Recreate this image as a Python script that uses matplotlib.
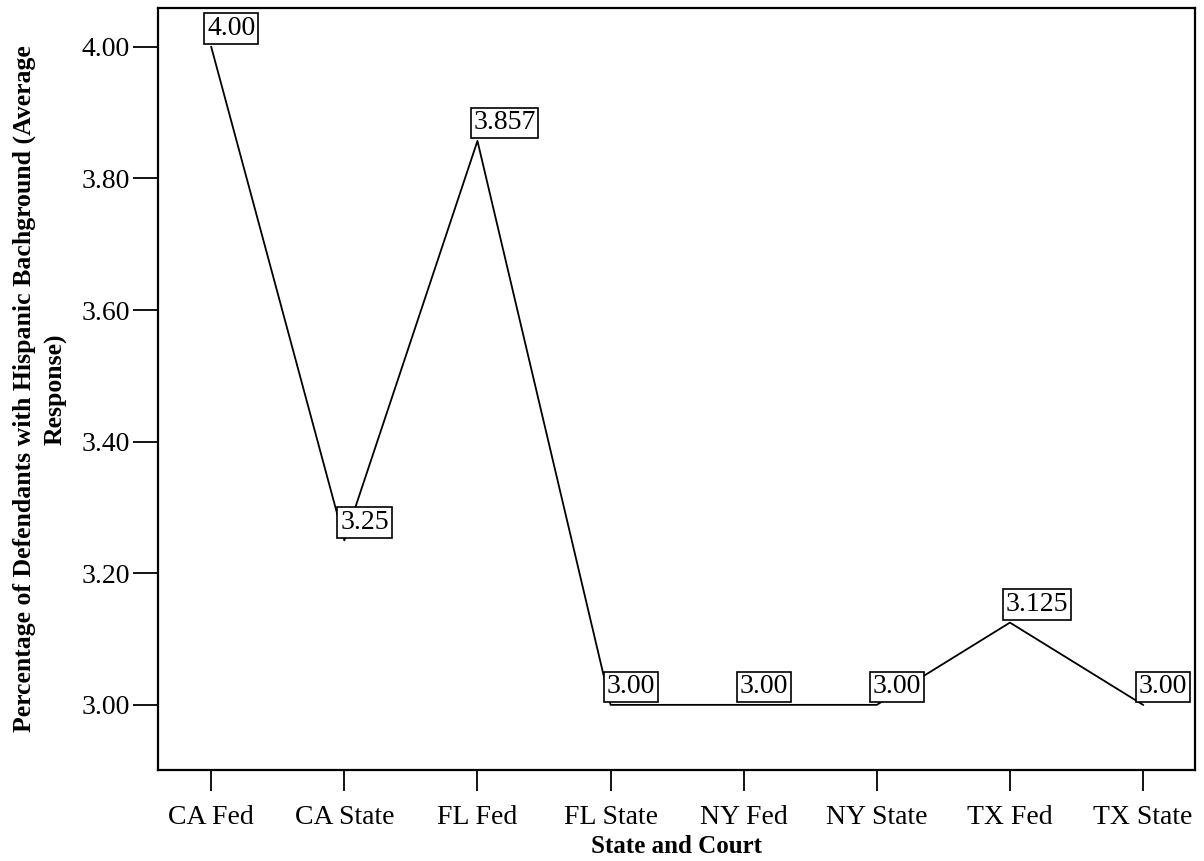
import matplotlib.pyplot as plt

# data
courts = ['CA Fed', 'CA State', 'FL Fed', 'FL State', 'NY Fed', 'NY State', 'TX Fed', 'TX State']
avg_resp = [4.00, 3.25, 3.857, 3.00, 3.00, 3.00, 3.125, 3.00]
point_labels = ['4.00', '3.25', '3.857', '3.00', '3.00', '3.00', '3.125', '3.00']
yticks = [3.00, 3.20, 3.40, 3.60, 3.80, 4.00]

plt.rcParams['font.family'] = ['Liberation Serif', 'DejaVu Serif']

fig = plt.figure(figsize=(12.04, 8.61), dpi=100)
ax = fig.add_axes([0.1312, 0.1057, 0.8613, 0.885])

xs = list(range(len(courts)))
ax.plot(xs, avg_resp, color='black', linewidth=1.3)

for x, y, lab in zip(xs, avg_resp, point_labels):
    ax.annotate(lab, (x, y), xytext=(-3, 4), textcoords='offset points',
                ha='left', va='bottom', fontsize=20, annotation_clip=False,
                bbox=dict(boxstyle='square,pad=0.1', fc='white', ec='black', lw=1.2))

ax.set_xlim(-0.4, 7.39)
ax.set_ylim(2.901, 4.059)
ax.set_xticks(xs)
ax.set_xticklabels(courts, fontsize=20)
ax.set_yticks(yticks)
ax.set_yticklabels(['%.2f' % v for v in yticks], fontsize=20)

ax.tick_params(axis='y', direction='out', length=18, width=1.3, pad=2)
ax.tick_params(axis='x', direction='out', length=15, width=1.3, pad=10)
for s in ax.spines.values():
    s.set_linewidth(1.6)

ax.set_xlabel('State and Court', fontsize=18, fontweight='bold', labelpad=4)
ax.set_ylabel('Percentage of Defendants with Hispanic Bachground (Average\nResponse)',
              fontsize=18.5, fontweight='bold', labelpad=10, linespacing=1.45)

fig.savefig('out.png', dpi=100)
